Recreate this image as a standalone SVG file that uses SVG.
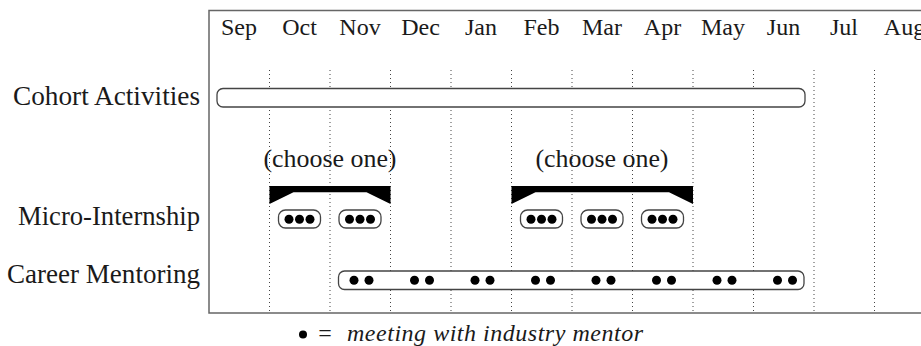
<svg xmlns="http://www.w3.org/2000/svg" width="921" height="346" viewBox="0 0 921 346" font-family="'Liberation Serif', 'DejaVu Serif', serif">
<style>
text{font-family:'Liberation Serif','DejaVu Serif',serif;fill:#1a1a1a}
.month{font-size:24px;text-anchor:middle}
.row{font-size:27px;text-anchor:end}
.choose{font-size:25px;text-anchor:middle}
.frame{stroke:#666;stroke-width:1.5;fill:none}
.grid{stroke:#444;stroke-width:1;stroke-dasharray:1 3;fill:none}
.bar{fill:#fff;stroke:#444;stroke-width:1.3}
.dot{fill:#000}
.bracket{fill:#000}
</style>
<rect width="921" height="346" fill="#fff"/>
<g id="frame">
<path class="frame" d="M921 10.5 H209 V313 H921"/>
</g>
<g id="months">
<text class="month" x="239" y="35">Sep</text>
<text class="month" x="299.5" y="35">Oct</text>
<text class="month" x="360" y="35">Nov</text>
<text class="month" x="420.5" y="35">Dec</text>
<text class="month" x="481" y="35">Jan</text>
<text class="month" x="541.5" y="35">Feb</text>
<text class="month" x="602" y="35">Mar</text>
<text class="month" x="662.5" y="35">Apr</text>
<text class="month" x="723" y="35">May</text>
<text class="month" x="783.5" y="35">Jun</text>
<text class="month" x="844" y="35">Jul</text>
<text class="month" x="904.5" y="35">Aug</text>
</g>
<g id="grid">
<path class="grid" d="M269.5 70V313M330 70V313M390.5 70V313M451 70V313M511.5 70V313M572 70V313M632.5 70V313M693 70V313M753.5 70V313M814 70V313M874.5 70V313"/>
</g>
<g id="row-labels">
<text class="row" x="200" y="104.5" textLength="187" lengthAdjust="spacingAndGlyphs">Cohort Activities</text>
<text class="row" x="200" y="225" textLength="182" lengthAdjust="spacingAndGlyphs">Micro-Internship</text>
<text class="row" x="200" y="283" textLength="193" lengthAdjust="spacingAndGlyphs">Career Mentoring</text>
</g>
<g id="cohort-activities">
<rect class="bar" x="217" y="88.5" width="588" height="18.5" rx="6"/>
</g>
<g id="choose-one-1">
<text class="choose" x="330" y="166.5" textLength="133" lengthAdjust="spacingAndGlyphs">(choose one)</text>
<polygon class="bracket" points="269.5,186 390.5,186 390.5,204 366.5,192.3 293.5,192.3 269.5,204"/>
</g>
<g id="choose-one-2">
<text class="choose" x="602" y="166.5" textLength="133" lengthAdjust="spacingAndGlyphs">(choose one)</text>
<polygon class="bracket" points="511.5,186 693,186 693,204 669,192.3 535.5,192.3 511.5,204"/>
</g>
<g id="micro-internships">
<g id="mi-oct"><rect class="bar" x="278.5" y="210" width="42" height="18" rx="7"/><circle class="dot" cx="289" cy="219.3" r="4.5"/><circle class="dot" cx="299.5" cy="219.3" r="4.5"/><circle class="dot" cx="310" cy="219.3" r="4.5"/></g>
<g id="mi-nov"><rect class="bar" x="339" y="210" width="42" height="18" rx="7"/><circle class="dot" cx="349.5" cy="219.3" r="4.5"/><circle class="dot" cx="360" cy="219.3" r="4.5"/><circle class="dot" cx="370.5" cy="219.3" r="4.5"/></g>
<g id="mi-feb"><rect class="bar" x="520.5" y="210" width="42" height="18" rx="7"/><circle class="dot" cx="531" cy="219.3" r="4.5"/><circle class="dot" cx="541.5" cy="219.3" r="4.5"/><circle class="dot" cx="552" cy="219.3" r="4.5"/></g>
<g id="mi-mar"><rect class="bar" x="581" y="210" width="42" height="18" rx="7"/><circle class="dot" cx="591.5" cy="219.3" r="4.5"/><circle class="dot" cx="602" cy="219.3" r="4.5"/><circle class="dot" cx="612.5" cy="219.3" r="4.5"/></g>
<g id="mi-apr"><rect class="bar" x="641.5" y="210" width="42" height="18" rx="7"/><circle class="dot" cx="652" cy="219.3" r="4.5"/><circle class="dot" cx="662.5" cy="219.3" r="4.5"/><circle class="dot" cx="673" cy="219.3" r="4.5"/></g>
</g>
<g id="career-mentoring">
<rect class="bar" x="338.5" y="271" width="465.5" height="18.5" rx="6"/>
<circle class="dot" cx="354" cy="280.2" r="4.5"/><circle class="dot" cx="369" cy="280.2" r="4.5"/>
<circle class="dot" cx="414.5" cy="280.2" r="4.5"/><circle class="dot" cx="429.5" cy="280.2" r="4.5"/>
<circle class="dot" cx="475" cy="280.2" r="4.5"/><circle class="dot" cx="490" cy="280.2" r="4.5"/>
<circle class="dot" cx="535.5" cy="280.2" r="4.5"/><circle class="dot" cx="550.5" cy="280.2" r="4.5"/>
<circle class="dot" cx="596" cy="280.2" r="4.5"/><circle class="dot" cx="611" cy="280.2" r="4.5"/>
<circle class="dot" cx="656.5" cy="280.2" r="4.5"/><circle class="dot" cx="671.5" cy="280.2" r="4.5"/>
<circle class="dot" cx="717" cy="280.2" r="4.5"/><circle class="dot" cx="732" cy="280.2" r="4.5"/>
<circle class="dot" cx="777.5" cy="280.2" r="4.5"/><circle class="dot" cx="792.5" cy="280.2" r="4.5"/>
</g>
<g id="connectors"></g>
<g id="legend">
<circle class="dot" cx="303" cy="334.5" r="4"/>
<text x="325" y="341" font-size="24" text-anchor="middle">=</text>
<text x="347" y="341" font-size="24" font-style="italic" textLength="296" lengthAdjust="spacing">meeting with industry mentor</text>
</g>
</svg>
